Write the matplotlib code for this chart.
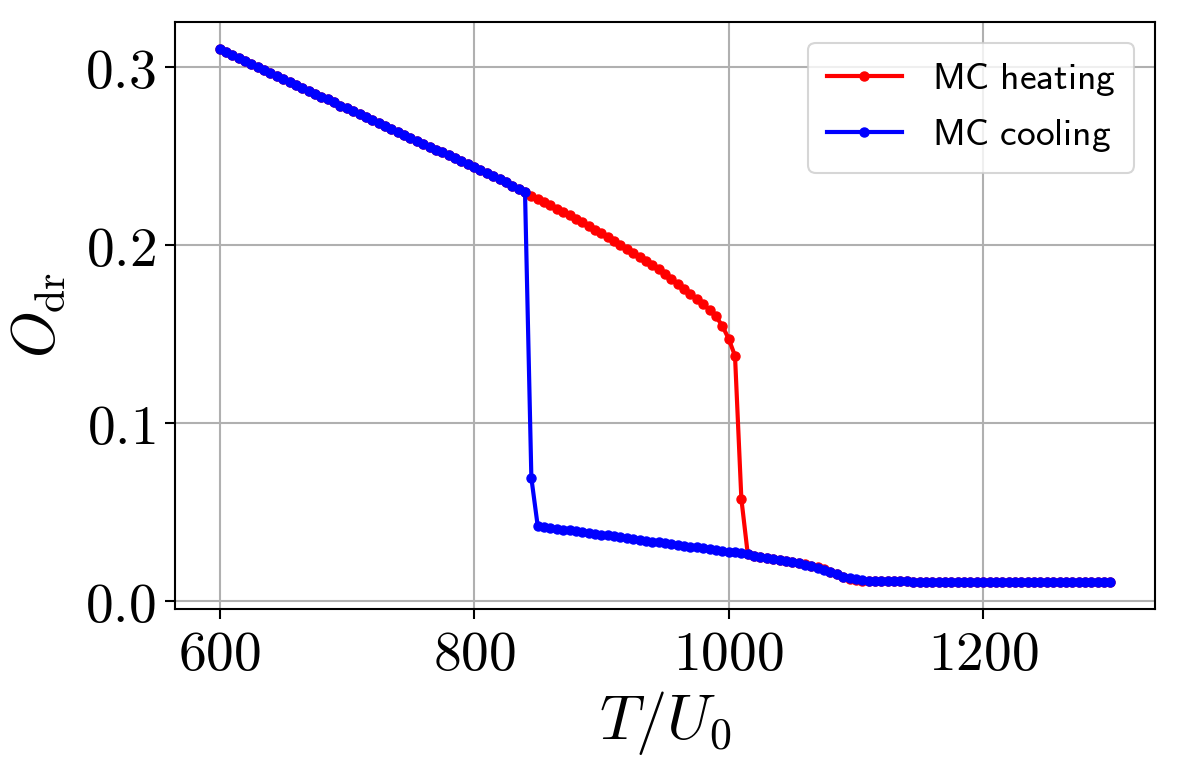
import numpy as np
import matplotlib
matplotlib.use("Agg")
import matplotlib.pyplot as plt
from matplotlib.ticker import FuncFormatter

plt.rcParams['mathtext.fontset'] = 'cm'

# Temperature grid (T/U0), sampled every 5 units from 600 to 1300
temperature = np.arange(600, 1301, 5)

heating = [
    0.3100, 0.3083, 0.3066, 0.3049, 0.3032, 0.3016, 0.2999, 0.2982, 0.2965, 0.2948,
    0.2932, 0.2915, 0.2898, 0.2881, 0.2865, 0.2848, 0.2831, 0.2815, 0.2798, 0.2781,
    0.2765, 0.2748, 0.2732, 0.2715, 0.2699, 0.2682, 0.2666, 0.2649, 0.2633, 0.2616,
    0.2600, 0.2584, 0.2567, 0.2551, 0.2534, 0.2518, 0.2501, 0.2485, 0.2468, 0.2452,
    0.2435, 0.2418, 0.2401, 0.2384, 0.2367, 0.2349, 0.2331, 0.2313, 0.2295,
    0.2276, 0.2258, 0.2240, 0.2222, 0.2203, 0.2184, 0.2165, 0.2146, 0.2126, 0.2106,
    0.2085, 0.2064, 0.2043, 0.2021, 0.2000, 0.1978, 0.1956, 0.1933, 0.1910, 0.1886,
    0.1861, 0.1836, 0.1809, 0.1781, 0.1753, 0.1723, 0.1696, 0.1666, 0.1633, 0.1598,
    0.1545, 0.1472, 0.1376, 0.0573, 0.0265,
    0.0255, 0.0249, 0.0244, 0.0238, 0.0232, 0.0226, 0.0219, 0.0213, 0.0206, 0.0199,
    0.0192, 0.0182, 0.0164, 0.0149, 0.0136, 0.0126, 0.0118, 0.0114, 0.0113, 0.0112,
    0.0112, 0.0112, 0.0111, 0.0111, 0.0110, 0.0106, 0.0105, 0.0105, 0.0105, 0.0105,
    0.0105, 0.0105, 0.0105, 0.0105, 0.0105, 0.0105, 0.0105, 0.0105, 0.0105, 0.0105,
    0.0105, 0.0105, 0.0105, 0.0105, 0.0105, 0.0105, 0.0105, 0.0105, 0.0105, 0.0105,
    0.0105, 0.0105, 0.0105, 0.0105, 0.0105, 0.0105, 0.0105,
]

cooling = [
    0.3100, 0.3083, 0.3066, 0.3049, 0.3032, 0.3016, 0.2999, 0.2982, 0.2965, 0.2948,
    0.2932, 0.2915, 0.2898, 0.2881, 0.2865, 0.2848, 0.2831, 0.2815, 0.2798, 0.2781,
    0.2765, 0.2748, 0.2732, 0.2715, 0.2699, 0.2682, 0.2666, 0.2649, 0.2633, 0.2616,
    0.2600, 0.2584, 0.2567, 0.2551, 0.2534, 0.2518, 0.2501, 0.2485, 0.2468, 0.2452,
    0.2435, 0.2418, 0.2401, 0.2384, 0.2367, 0.2349, 0.2331, 0.2313, 0.2295,
    0.0690, 0.0420, 0.0415, 0.0410, 0.0406, 0.0401, 0.0396, 0.0391, 0.0387, 0.0382,
    0.0377, 0.0372, 0.0368, 0.0363, 0.0358, 0.0353, 0.0349, 0.0344, 0.0339, 0.0334,
    0.0330, 0.0325, 0.0320, 0.0315, 0.0311, 0.0306, 0.0301, 0.0296, 0.0292, 0.0287,
    0.0282, 0.0277, 0.0273, 0.0268, 0.0263,
    0.0255, 0.0249, 0.0244, 0.0238, 0.0232, 0.0226, 0.0219, 0.0212, 0.0204, 0.0196,
    0.0187, 0.0175, 0.0162, 0.0149, 0.0137, 0.0128, 0.0121, 0.0117, 0.0114, 0.0113,
    0.0112, 0.0112, 0.0111, 0.0111, 0.0110, 0.0106, 0.0105, 0.0105, 0.0105, 0.0105,
    0.0105, 0.0105, 0.0105, 0.0105, 0.0105, 0.0105, 0.0105, 0.0105, 0.0105, 0.0105,
    0.0105, 0.0105, 0.0105, 0.0105, 0.0105, 0.0105, 0.0105, 0.0105, 0.0105, 0.0105,
    0.0105, 0.0105, 0.0105, 0.0105, 0.0105, 0.0105, 0.0105,
]

x_ticks = [600, 800, 1000, 1200]
y_ticks = [0.0, 0.1, 0.2, 0.3]

fig = plt.figure(figsize=(11.77, 7.75), dpi=100)
ax = fig.add_axes([0.1487, 0.2142, 0.9813 - 0.1487, 0.9716 - 0.2142])

ax.plot(temperature, heating, '-o', color='red', lw=3.0, ms=6.5,
        label=r'$\mathsf{MC\ heating}$')
ax.plot(temperature, cooling, '-o', color='blue', lw=3.0, ms=6.5,
        label=r'$\mathsf{MC\ cooling}$')

ax.set_xticks(x_ticks)
ax.set_yticks(y_ticks)
ax.xaxis.set_major_formatter(FuncFormatter(lambda v, p: f'${v:.0f}$'))
ax.yaxis.set_major_formatter(FuncFormatter(lambda v, p: f'${v:.1f}$'))
ax.tick_params(labelsize=40, length=7, width=1.5, pad=7)
ax.grid(True, color='#b0b0b0', lw=1.5)
ax.set_axisbelow(True)
for s in ax.spines.values():
    s.set_linewidth(1.5)

ax.set_xlabel(r'$T/U_0$', fontsize=45, labelpad=5)
ax.set_ylabel(r'$O_{\mathrm{dr}}$', fontsize=43, labelpad=12)

leg = ax.legend(loc='upper right', fontsize=27, handlelength=2.0,
                borderpad=0.5, labelspacing=0.5, framealpha=0.8,
                borderaxespad=0.55)
leg.get_frame().set_linewidth(1.5)

fig.savefig('out.png', dpi=100)
